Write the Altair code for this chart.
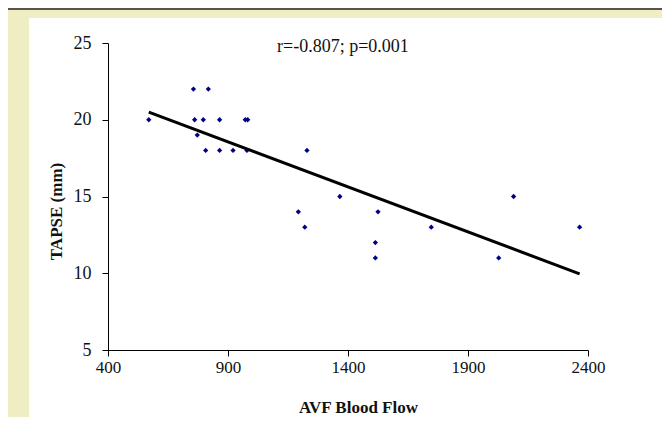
import altair as alt
import pandas as pd

# AVF blood flow vs TAPSE readings
avf_flow = [570, 756, 818, 761, 797, 865, 972, 982, 772, 807, 865, 921, 979,
            1229, 1366, 1193, 1525, 1220, 1747, 2365, 1514, 1514, 2028, 2090]
tapse = [20, 22, 22, 20, 20, 20, 20, 20, 19, 18, 18, 18, 18,
         18, 15, 14, 14, 13, 13, 13, 12, 11, 11, 15]
x_ticks = [400, 900, 1400, 1900, 2400]
y_ticks = [5, 10, 15, 20, 25]
annotation = "r=-0.807; p=0.001"

df = pd.DataFrame({"flow": avf_flow, "tapse": tapse})
one = pd.DataFrame({"a": [0]})

FONT = "Liberation Serif"
YELLOW = "#EFEEC2"

x_enc = alt.X("flow:Q",
              scale=alt.Scale(domain=[400, 2400], nice=False, zero=False),
              axis=alt.Axis(values=x_ticks, format="d", title="AVF  Blood  Flow",
                            grid=False, zindex=2,
                            domainColor="#000", tickColor="#000", tickSize=6,
                            labelFont=FONT, labelFontSize=17, labelColor="#111",
                            labelPadding=3, labelFlush=False,
                            titleFont=FONT, titleFontSize=17, titleFontWeight="bold",
                            titleColor="#111", titleX=250, titleY=57,
                            titleBaseline="middle", titleAlign="center"))
y_enc = alt.Y("tapse:Q",
              scale=alt.Scale(domain=[5, 25], nice=False, zero=False),
              axis=alt.Axis(values=y_ticks, format="d", title="TAPSE  (mm)",
                            grid=False, zindex=2,
                            domainColor="#000", tickColor="#000", tickSize=6,
                            labelFont=FONT, labelFontSize=18, labelColor="#111",
                            labelPadding=11, labelFlush=False,
                            titleFont=FONT, titleFontSize=17, titleFontWeight="bold",
                            titleColor="#111", titleAngle=-90, titleX=-52, titleY=168,
                            titleBaseline="middle", titleAlign="center"))

white_panel = alt.Chart(one).mark_rect(color="white").encode(
    x=alt.value(-79), x2=alt.value(560), y=alt.value(-25), y2=alt.value(400))
top_rule = alt.Chart(one).mark_rule(color="#222", strokeWidth=1.5).encode(
    x=alt.value(-108), x2=alt.value(560), y=alt.value(-34))

points = alt.Chart(df).mark_point(shape="diamond", filled=True, color="#00008B",
                                  size=28, opacity=1).encode(x=x_enc, y=y_enc)
fit = alt.Chart(df).transform_regression("flow", "tapse").mark_line(
    color="black", strokeWidth=3).encode(x="flow:Q", y="tapse:Q")
label = alt.Chart(one).mark_text(text=annotation, font=FONT, fontSize=18,
                                 align="left", baseline="middle", color="#111").encode(
    x=alt.value(169), y=alt.value(4))

chart = alt.layer(white_panel, top_rule, points, fit, label).properties(
    width=480, height=307,
    padding={"left": 100, "top": 35, "right": 74, "bottom": 67},
    autosize=alt.AutoSizeParams(type="none"),
    background=YELLOW,
).configure_view(stroke=None)

chart.save("out.html", embed_options={"renderer": "svg", "actions": False})
